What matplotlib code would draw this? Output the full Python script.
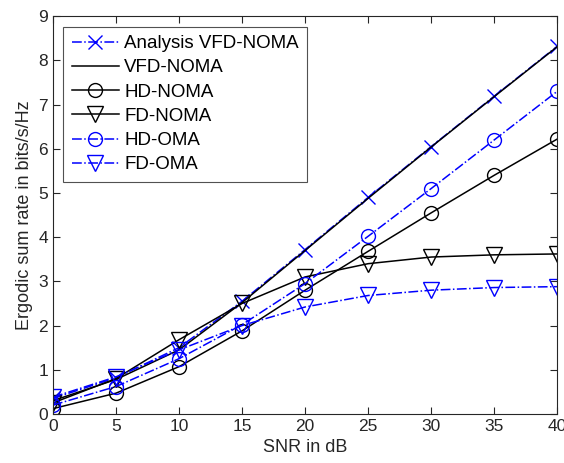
import numpy as np
import matplotlib.pyplot as plt

plt.rcParams['font.family'] = ['Liberation Sans', 'DejaVu Sans']

snr = [0, 5, 10, 15, 20, 25, 30, 35, 40]
analysis_vfd = [0.35, 0.82, 1.50, 2.55, 3.72, 4.90, 6.05, 7.19, 8.32]
vfd_noma = [0.30, 0.78, 1.45, 2.52, 3.70, 4.88, 6.04, 7.18, 8.31]
hd_noma = [0.12, 0.47, 1.07, 1.88, 2.80, 3.68, 4.55, 5.40, 6.22]
fd_noma = [0.25, 0.80, 1.68, 2.50, 3.10, 3.40, 3.55, 3.60, 3.62]
hd_oma = [0.20, 0.62, 1.25, 2.02, 2.95, 4.02, 5.10, 6.20, 7.30]
fd_oma = [0.38, 0.84, 1.45, 2.00, 2.42, 2.68, 2.80, 2.86, 2.88]

grey = '#262626'
fig = plt.figure(figsize=(5.64, 4.63), dpi=100)
ax = fig.add_axes([0.094, 0.106, 0.894, 0.859])

ax.plot(snr, analysis_vfd, '-.x', color='blue', ms=10, lw=1.1, label='Analysis VFD-NOMA')
ax.plot(snr, vfd_noma, '-', color='black', lw=1.1, label='VFD-NOMA')
ax.plot(snr, hd_noma, '-o', color='black', ms=10, mfc='none', lw=1.1, label='HD-NOMA')
ax.plot(snr, fd_noma, '-v', color='black', ms=11, mfc='none', lw=1.1, label='FD-NOMA')
ax.plot(snr, hd_oma, '-.o', color='blue', ms=10, mfc='none', lw=1.1, label='HD-OMA')
ax.plot(snr, fd_oma, '-.v', color='blue', ms=11, mfc='none', lw=1.1, label='FD-OMA')

ax.set_xlim(0, 40)
ax.set_ylim(0, 9)
ax.set_xticks(np.arange(0, 41, 5))
ax.set_yticks(np.arange(0, 10, 1))
ax.tick_params(direction='in', top=True, right=True, labelsize=12.5, length=5,
               colors=grey, labelcolor=grey)
for s in ax.spines.values():
    s.set_color(grey)
ax.set_xlabel('SNR in dB', fontsize=13, color=grey)
ax.set_ylabel('Ergodic sum rate in bits/s/Hz', fontsize=13, color=grey)

leg = ax.legend(loc='upper left', fontsize=13.5, fancybox=False, edgecolor=grey,
                handlelength=2.5, borderaxespad=0.55, labelspacing=0.38,
                handletextpad=0.3, borderpad=0.45)
leg.get_frame().set_linewidth(0.8)
for t in leg.get_texts():
    t.set_color('black')

fig.savefig('out.png', dpi=100)
